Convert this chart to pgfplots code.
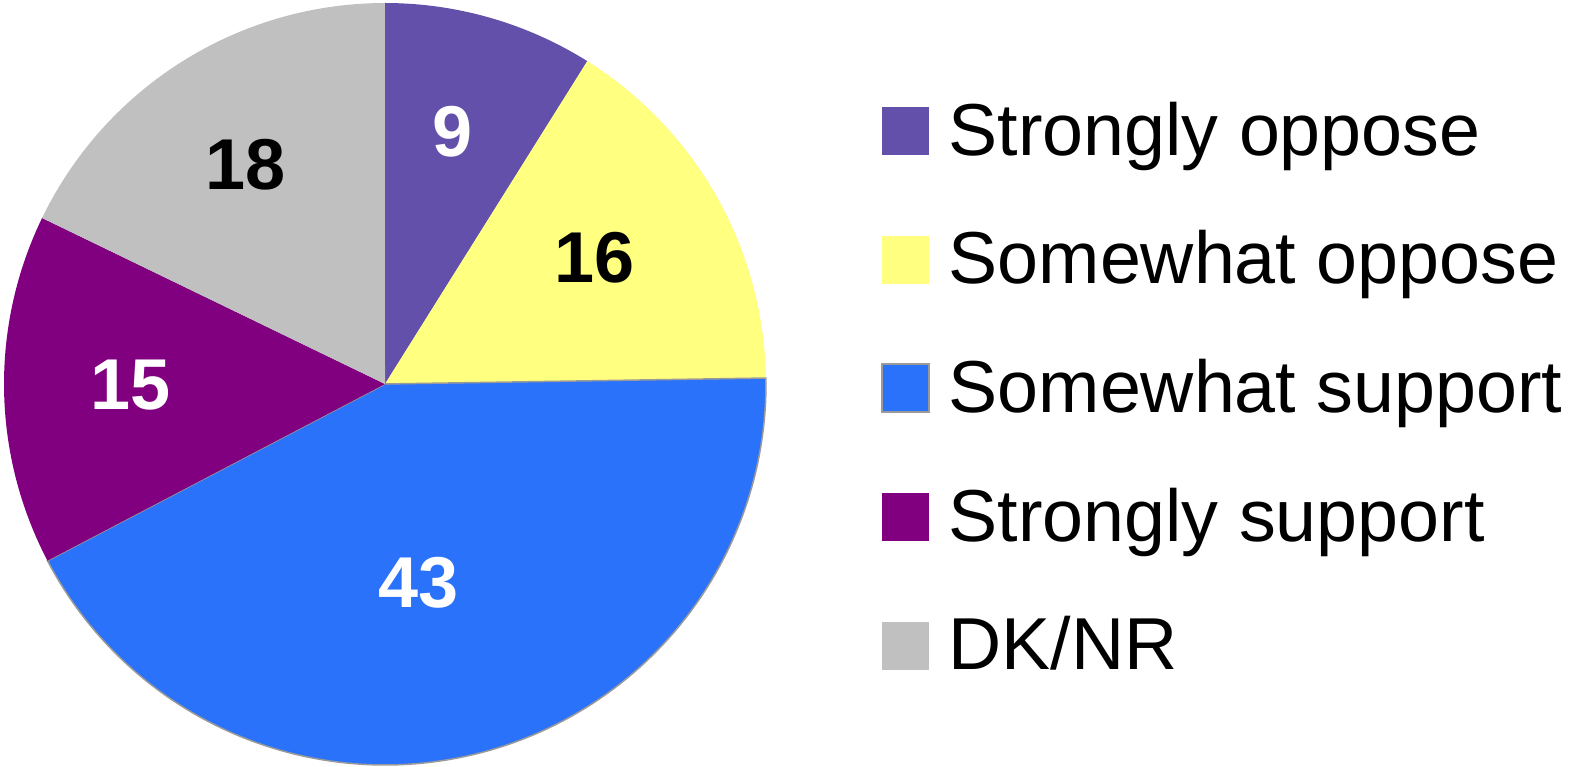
\documentclass[border=0pt]{standalone}
\usepackage{fontspec}
\setmainfont{Liberation Sans}
\usepackage{pgfplots}
\usepackage{pgfplotstable}
\pgfplotsset{compat=1.18}

\definecolor{cSO}{HTML}{6250AA}
\definecolor{cWO}{HTML}{FFFF80}
\definecolor{cWS}{HTML}{2A72F9}
\definecolor{cSS}{HTML}{800080}
\definecolor{cDK}{HTML}{C0C0C0}
\definecolor{cEdge}{HTML}{9A9A9A}

\pgfplotstableread{
slice value
1 9
2 16
3 43
4 15
5 18
}\piedata

\begin{document}
\begin{tikzpicture}
\path[use as bounding box] (0,0) rectangle (1571pt,767pt);
\pgfplotstablegetelem{0}{value}\of\piedata \pgfmathsetmacro\vA{\pgfplotsretval}
\pgfplotstablegetelem{1}{value}\of\piedata \pgfmathsetmacro\vB{\pgfplotsretval}
\pgfplotstablegetelem{2}{value}\of\piedata \pgfmathsetmacro\vC{\pgfplotsretval}
\pgfplotstablegetelem{3}{value}\of\piedata \pgfmathsetmacro\vD{\pgfplotsretval}
\pgfplotstablegetelem{4}{value}\of\piedata \pgfmathsetmacro\vE{\pgfplotsretval}
\pgfmathsetmacro\tot{\vA+\vB+\vC+\vD+\vE}
\pgfmathsetmacro\aA{90}
\pgfmathsetmacro\aB{\aA-\vA/\tot*360}
\pgfmathsetmacro\aC{\aB-\vB/\tot*360}
\pgfmathsetmacro\aD{\aC-\vC/\tot*360}
\pgfmathsetmacro\aE{\aD-\vD/\tot*360}
\pgfmathsetmacro\aF{\aE-\vE/\tot*360}
\begin{axis}[
  hide axis, scale only axis, width=762pt, height=762pt,
  at={(4pt,2pt)}, anchor=south west,
  xmin=-1, xmax=1, ymin=-1, ymax=1, clip=false,
  legend image code/.code={\path[#1] (0pt,-26pt) rectangle (47pt,22pt);},
  legend cell align=left,
  legend style={draw=none, fill=none, inner sep=0pt,
    at={(axis description cs:1.1509,0.8688)}, anchor=north west,
    row sep=76.5pt, column sep=19pt,
    nodes={inner sep=0pt, text height=52pt, text depth=0pt},
    font=\fontsize{73.6}{80}\selectfont},
]
\addplot[fill=cSO, draw=none, domain=\aB:\aA, samples=40, variable=\t] ({cos(\t)},{sin(\t)}) -- (axis cs:0,0) -- cycle;
\addlegendentry{Strongly oppose}
\addplot[fill=cWO, draw=none, domain=\aC:\aB, samples=60, variable=\t] ({cos(\t)},{sin(\t)}) -- (axis cs:0,0) -- cycle;
\addlegendentry{Somewhat oppose}
\addplot[fill=cWS, draw=cEdge, line width=1.5pt, domain=\aD:\aC, samples=120, variable=\t] ({cos(\t)},{sin(\t)}) -- (axis cs:0,0) -- cycle;
\addlegendentry{Somewhat support}
\addplot[fill=cSS, draw=none, domain=\aE:\aD, samples=60, variable=\t] ({cos(\t)},{sin(\t)}) -- (axis cs:0,0) -- cycle;
\addlegendentry{Strongly support}
\addplot[fill=cDK, draw=none, domain=\aF:\aE, samples=60, variable=\t] ({cos(\t)},{sin(\t)}) -- (axis cs:0,0) -- cycle;
\addlegendentry{DK/NR}
\addplot[forget plot, only marks, mark=none, nodes near coords, point meta=explicit symbolic,
  nodes near coords style={anchor=center, inner sep=0pt, text=white, font=\fontsize{72}{80}\selectfont\bfseries}]
  coordinates {(0.176,0.661)[9] (-0.669,-0.003)[15] (0.089,-0.522)[43]};
\addplot[forget plot, only marks, mark=none, nodes near coords, point meta=explicit symbolic,
  nodes near coords style={anchor=center, inner sep=0pt, text=black, font=\fontsize{72}{80}\selectfont\bfseries}]
  coordinates {(0.549,0.331)[16] (-0.367,0.575)[18]};
\end{axis}
\end{tikzpicture}
\end{document}
